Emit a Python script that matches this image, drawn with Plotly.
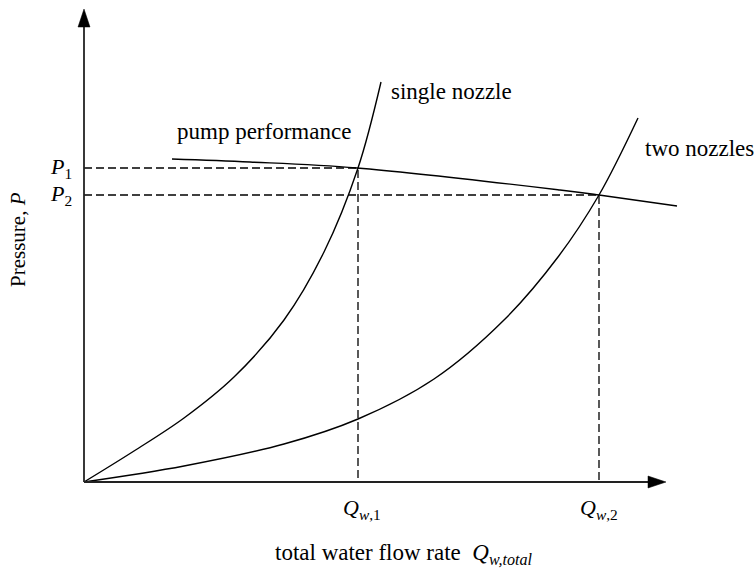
import plotly.graph_objects as go

# Operating points: pump curve crossing each system curve
Q1, P1 = 2.74, 3.14
Q2, P2 = 5.15, 2.87

# System curve with a single nozzle
single_q = [0.00, 0.50, 1.00, 1.50, 2.00, 2.40, 2.74, 2.97]
single_p = [0.00, 0.31, 0.64, 1.05, 1.62, 2.30, 3.14, 4.00]

# System curve with two nozzles
two_q = [0.00, 1.00, 2.00, 2.74, 3.50, 4.20, 4.74, 5.15, 5.54]
two_p = [0.00, 0.16, 0.38, 0.63, 1.03, 1.62, 2.25, 2.87, 3.64]

# Pump performance curve
pump_q = [0.88, 1.66, 2.73, 4.76, 5.15, 5.93]
pump_p = [3.23, 3.20, 3.14, 2.92, 2.87, 2.76]

FONT = "Liberation Serif"
INK = "#000000"

fig = go.Figure()

curve = dict(color=INK, width=1.4, shape="spline", smoothing=1.0)
fig.add_trace(go.Scatter(x=single_q, y=single_p, mode="lines", line=curve, hoverinfo="skip"))
fig.add_trace(go.Scatter(x=two_q, y=two_p, mode="lines", line=curve, hoverinfo="skip"))
fig.add_trace(go.Scatter(x=pump_q, y=pump_p, mode="lines", line=curve, hoverinfo="skip"))

# Dashed guides from the operating points to both axes
guide = dict(color=INK, width=1.3, dash="8px,4px")
for q, p in [(Q1, P1), (Q2, P2)]:
    fig.add_trace(go.Scatter(x=[0, q, q], y=[p, p, 0], mode="lines", line=guide, hoverinfo="skip"))

# Axes drawn as lines with filled arrow heads
x_end, y_end = 5.64, 4.55
head_len, head_half = 0.18, 0.06
axis_line = dict(color="#222222", width=1.8)
shapes = [
    dict(type="line", xref="x", yref="y", x0=0, y0=0, x1=x_end, y1=0, line=axis_line),
    dict(type="line", xref="x", yref="y", x0=0, y0=0, x1=0, y1=y_end, line=axis_line),
    dict(type="path", xref="x", yref="y",
         path=f"M {x_end} {head_half} L {x_end + head_len} 0 L {x_end} {-head_half} Z",
         fillcolor=INK, line=dict(color=INK, width=0.5)),
    dict(type="path", xref="x", yref="y",
         path=f"M {-head_half} {y_end} L 0 {y_end + head_len} L {head_half} {y_end} Z",
         fillcolor=INK, line=dict(color=INK, width=0.5)),
]

big = dict(family=FONT, size=23, color=INK)
sym = dict(family=FONT, size=22, color=INK)
axis_txt = dict(family=FONT, size=21, color=INK)
annotations = [
    dict(x=0.91, y=3.51, text="pump performance", xanchor="left", yanchor="middle", font=big),
    dict(x=3.05, y=3.91, text="single nozzle", xanchor="left", yanchor="middle", font=big),
    dict(x=5.59, y=3.34, text="two nozzles", xanchor="left", yanchor="middle", font=big),
    dict(x=0, y=P1, text="<i>P</i><sub>1</sub>", xanchor="right", yanchor="middle", xshift=-10, font=sym),
    dict(x=0, y=P2, text="<i>P</i><sub>2</sub>", xanchor="right", yanchor="middle", xshift=-10, font=sym),
    dict(x=Q1, y=0, text="<i>Q</i><sub><i>w</i>,1</sub>", xanchor="center", yanchor="middle",
         yshift=-27, xshift=4, font=sym),
    dict(x=Q2, y=0, text="<i>Q</i><sub><i>w</i>,2</sub>", xanchor="center", yanchor="middle",
         yshift=-27, xshift=0, font=sym),
    dict(x=1.89, y=-0.72, text="total water flow rate&nbsp;&nbsp;<i>Q</i><sub><i>w,total</i></sub>",
         xanchor="left", yanchor="middle", font=big),
    dict(x=-0.66, y=2.42, text="Pressure, <i>P</i>", textangle=-90, xanchor="center", yanchor="middle",
         font=axis_txt),
]
for a in annotations:
    a.update(xref="x", yref="y", showarrow=False)

fig.update_layout(
    width=754, height=571,
    margin=dict(l=0, r=0, t=0, b=0),
    paper_bgcolor="white", plot_bgcolor="white",
    showlegend=False,
    xaxis=dict(range=[-0.84, 6.70], visible=False, fixedrange=True),
    yaxis=dict(range=[-0.89, 4.82], visible=False, fixedrange=True),
    shapes=shapes,
    annotations=annotations,
)

fig.write_html("out.html")
